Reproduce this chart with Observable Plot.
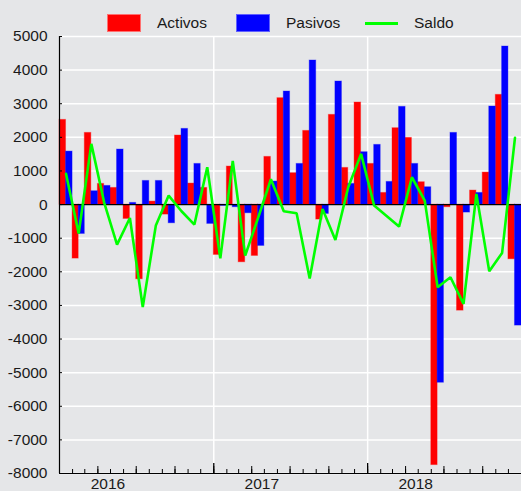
<!DOCTYPE html>
<html>
<head>
<meta charset="utf-8">
<script src="https://cdn.jsdelivr.net/npm/d3@7"></script>
<script src="https://cdn.jsdelivr.net/npm/@observablehq/plot@0.6"></script>
<style>
  html, body { margin: 0; padding: 0; background: #e5e6e8; }
  body { width: 521px; height: 491px; overflow: hidden; font-family: "Liberation Sans", Arial, sans-serif; }
  #legend { position: relative; height: 28px; width: 521px; font-size: 15.5px; color: #1a1a1a; }
  #legend .sw { position: absolute; top: 14px; width: 34px; height: 18px; box-sizing: border-box; }
  #legend .ln { position: absolute; top: 22px; width: 33px; height: 3px; }
  #legend .lb { position: absolute; top: 14px; line-height: 18px; }
  #chart svg { display: block; }
</style>
</head>
<body>
<div id="legend"></div>
<div id="chart"></div>
<script>
const months = [
  "2016-01","2016-02","2016-03","2016-04","2016-05","2016-06","2016-07","2016-08","2016-09","2016-10","2016-11","2016-12",
  "2017-01","2017-02","2017-03","2017-04","2017-05","2017-06","2017-07","2017-08","2017-09","2017-10","2017-11","2017-12",
  "2018-01","2018-02","2018-03","2018-04","2018-05","2018-06","2018-07","2018-08","2018-09","2018-10","2018-11","2018-12"
];
const activos = [2520, -1607, 2133, 615, 496, -427, -2222, 89, -298, 2054, 625, 496,
  -1498, 1131, -1716, -1528, 1419, 3165, 933, 2192, -446, 2669, 1091, 3036,
  1210, 347, 2272, 1984, 665, -7750, -79, -3155, 417, 952, 3264, -1627];
const pasivos = [1577, -873, 397, 556, 1637, 50, 704, 704, -556, 2252, 1210, -575,
  -40, -79, -258, -1230, 685, 3363, 1210, 4286, -278, 3661, 615, 1558,
  1776, 675, 2907, 1210, 516, -5300, 2133, -238, 347, 2917, 4702, -3600];
const saldo = [913, -860, 1806, 60, -1190, -400, -3050, -625, 268, -198, -595, 1110,
  -1600, 1300, -1518, -400, 754, -198, -258, -2200, -129, -1052, 516, 1508,
  -30, -340, -655, 813, 119, -2460, -2163, -2956, 317, -1984, -1438, 1984];
const years = [2016, 2017, 2018];
const yTicks = [5000, 4000, 3000, 2000, 1000, 0, -1000, -2000, -3000, -4000, -5000, -6000, -7000, -8000];
const series = [
  {name: "Activos", color: "#ff0000", type: "bar"},
  {name: "Pasivos", color: "#0000ff", type: "bar"},
  {name: "Saldo", color: "#00ff00", type: "line"}
];

// legend
const legend = document.getElementById("legend");
const legendX = [107, 236, 365];
const labelX = [157, 286, 414];
series.forEach((s, i) => {
  const sw = document.createElement("div");
  if (s.type === "bar") {
    sw.className = "sw";
    sw.style.background = s.color;
    sw.style.border = "1px solid " + (s.color === "#ff0000" ? "#ff7070" : "#6060ff");
  } else {
    sw.className = "ln";
    sw.style.background = s.color;
  }
  sw.style.left = legendX[i] + "px";
  legend.appendChild(sw);
  const lb = document.createElement("div");
  lb.className = "lb";
  lb.style.left = labelX[i] + "px";
  lb.textContent = s.name;
  legend.appendChild(lb);
});

const parse = d3.utcParse("%Y-%m");
const rows = months.map((m, i) => {
  const start = parse(m);
  const end = d3.utcMonth.offset(start, 1);
  const mid = new Date((+start + +end) / 2);
  return {start, end, mid, activos: activos[i], pasivos: pasivos[i], saldo: saldo[i]};
});
const xStart = rows[0].start;
const xEnd = rows[rows.length - 1].end;
const allMonths = d3.utcMonth.range(xStart, xEnd);
const quarterMonths = allMonths.filter(d => d.getUTCMonth() % 3 === 0);
const yearStarts = years.map(y => new Date(Date.UTC(y, 0, 1)));
const innerYearStarts = yearStarts.slice(1);
const yearLabels = years.map(y => ({year: String(y), x: new Date(Date.UTC(y, 3, 25))}));

const font = "Liberation Sans, Arial, sans-serif";

const chart = Plot.plot({
  width: 521,
  height: 463,
  marginTop: 8,
  marginBottom: 18,
  marginLeft: 59,
  marginRight: 0,
  style: {background: "#e5e6e8", fontFamily: font, fontSize: "15.5px", color: "#1a1a1a", overflow: "visible"},
  x: {type: "utc", domain: [xStart, xEnd]},
  y: {domain: [-8000, 5000]},
  marks: [
    Plot.gridY(yTicks, {stroke: "#ffffff", strokeOpacity: 1, strokeWidth: 1.5}),
    Plot.gridX(innerYearStarts, {stroke: "#ffffff", strokeOpacity: 1, strokeWidth: 1.5}),
    Plot.rectY(rows, {x1: "start", x2: "mid", y1: 0, y2: "activos", fill: "#ff0000", stroke: "#ff0000", strokeOpacity: 0.35, strokeWidth: 1}),
    Plot.rectY(rows, {x1: "mid", x2: "end", y1: 0, y2: "pasivos", fill: "#0000ff", stroke: "#0000ff", strokeOpacity: 0.35, strokeWidth: 1}),
    Plot.ruleY([0], {stroke: "#000000", strokeWidth: 1.2}),
    Plot.lineY(rows, {x: "mid", y: "saldo", stroke: "#00ff00", strokeWidth: 2.6, strokeLinejoin: "miter"}),
    Plot.ruleX([xStart], {stroke: "#000000", strokeWidth: 1.2}),
    Plot.ruleY([-8000], {stroke: "#000000", strokeWidth: 1.2}),
    Plot.axisY(yTicks, {tickSize: -3, tickFormat: null, text: null, stroke: "#000000"}),
    Plot.axisY(yTicks, {tickSize: 0, tickPadding: 12, tickFormat: d => String(d), fill: "#1a1a1a", fontSize: 15.5, label: null}),
    Plot.axisX(allMonths, {tickSize: -4, text: null, tickFormat: null, label: null, stroke: "#000000"}),
    Plot.axisX(quarterMonths, {tickSize: -7, text: null, tickFormat: null, label: null, stroke: "#000000"}),
    Plot.axisX(innerYearStarts, {tickSize: -10, text: null, tickFormat: null, label: null, stroke: "#000000", strokeWidth: 1.3}),
    Plot.text(yearLabels, {x: "x", text: "year", frameAnchor: "bottom", dy: 11, lineAnchor: "middle", fontSize: 15.5, fill: "#1a1a1a"})
  ]
});
document.getElementById("chart").appendChild(chart);
</script>
</body>
</html>
